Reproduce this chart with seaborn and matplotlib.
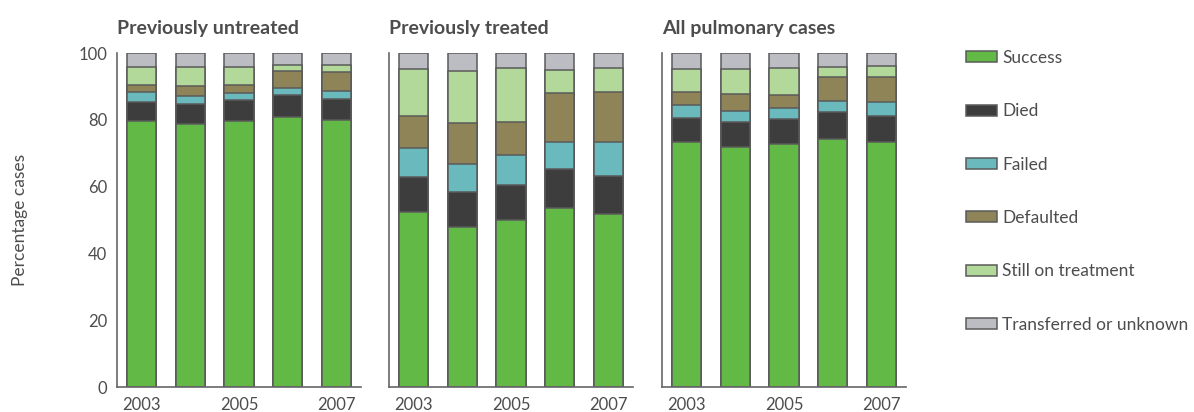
"""
Treatment outcomes, stacked percentage bars for three case groups.
"""
import numpy as np
import matplotlib
matplotlib.use("Agg")
import matplotlib.pyplot as plt
from matplotlib.patches import Patch
from matplotlib.ticker import FixedLocator
import seaborn as sns

years = ["2003", "2004", "2005", "2006", "2007"]
year_labels = ["2003", "", "2005", "", "2007"]
outcomes = ["Success", "Died", "Failed", "Defaulted", "Still on treatment", "Transferred or unknown"]
colors = ["#62b946", "#3d3d3d", "#69b9bd", "#8e8457", "#b2d99a", "#bcbdc2"]
panel_titles = ["Previously untreated", "Previously treated", "All pulmonary cases"]

# segment values per outcome (bottom to top), one list per year
untreated_success = [79.5, 78.8, 79.7, 80.7, 79.9]
untreated_died = [5.9, 6.0, 6.1, 6.7, 6.3]
untreated_failed = [2.8, 2.3, 2.2, 2.1, 2.4]
untreated_defaulted = [2.3, 3.1, 2.3, 5.2, 5.6]
untreated_still = [5.3, 5.6, 5.5, 1.7, 2.2]
untreated_transferred = [4.2, 4.2, 4.2, 3.6, 3.6]

treated_success = [52.4, 48.0, 50.1, 53.6, 51.8]
treated_died = [10.4, 10.4, 10.5, 11.7, 11.3]
treated_failed = [8.7, 8.5, 8.8, 8.0, 10.3]
treated_defaulted = [9.6, 12.0, 9.8, 14.6, 15.0]
treated_still = [14.1, 15.8, 16.4, 7.1, 7.0]
treated_transferred = [4.8, 5.3, 4.4, 5.0, 4.6]

all_success = [73.3, 71.8, 72.8, 74.3, 73.4]
all_died = [7.2, 7.4, 7.3, 8.0, 7.7]
all_failed = [3.9, 3.5, 3.4, 3.2, 4.1]
all_defaulted = [3.9, 4.9, 4.0, 7.4, 7.6]
all_still = [7.0, 7.7, 8.0, 3.0, 3.2]
all_transferred = [4.7, 4.7, 4.5, 4.1, 4.0]

panels = [
    [untreated_success, untreated_died, untreated_failed,
     untreated_defaulted, untreated_still, untreated_transferred],
    [treated_success, treated_died, treated_failed,
     treated_defaulted, treated_still, treated_transferred],
    [all_success, all_died, all_failed,
     all_defaulted, all_still, all_transferred],
]

sns.set_style("white")
plt.rcParams["font.family"] = ["Lato", "DejaVu Sans"]

TEXT = "#4d4d4d"
EDGE = "#5a5a5a"
SPINE = "#666666"

fig = plt.figure(figsize=(11.94, 4.12), dpi=100)
lefts = [117, 389, 662]
axes = [fig.add_axes([l / 1194, 25 / 412, 244 / 1194, 334 / 412]) for l in lefts]

for i, (ax, segs, title) in enumerate(zip(axes, panels, panel_titles)):
    cum = np.cumsum(np.array(segs), axis=0)
    # draw the tallest (cumulative) layer first so lower layers sit on top
    for k in range(len(outcomes) - 1, -1, -1):
        sns.barplot(x=years, y=cum[k], color=colors[k], width=0.6,
                    saturation=1, edgecolor=EDGE, linewidth=1.1, ax=ax)
    ax.set_xlim(-0.5, 4.5)
    ax.set_ylim(0, 100)
    ax.set_xlabel("")
    ax.set_ylabel("")
    for s in ["top", "right"]:
        ax.spines[s].set_visible(False)
    for s in ["left", "bottom"]:
        ax.spines[s].set_color(SPINE)
        ax.spines[s].set_linewidth(1.2)
    ax.set_xticks(range(5))
    ax.set_xticklabels(year_labels)
    ax.xaxis.set_minor_locator(FixedLocator([0.5, 1.5, 2.5, 3.5, 4.5]))
    ax.tick_params(axis="x", which="major", length=0, pad=7, labelsize=12, labelcolor=TEXT)
    ax.tick_params(axis="x", which="minor", direction="in", length=7, width=1.2, color=SPINE)
    ax.set_yticks([0, 20, 40, 60, 80, 100])
    ax.tick_params(axis="y", direction="in", length=3.5, width=1.2, color=SPINE,
                   labelsize=12, labelcolor=TEXT, pad=7)
    if i > 0:
        ax.set_yticklabels([])
    ax.set_title(title, loc="left", fontsize=14, fontweight="bold", color=TEXT, pad=14)

axes[0].set_ylabel("Percentage cases", fontsize=12.5, color=TEXT, labelpad=36)

handles = [Patch(facecolor=c, edgecolor=EDGE, linewidth=1.1) for c in colors]
fig.legend(handles, outcomes, loc="upper left", bbox_to_anchor=(959 / 1194, 1 - 43 / 412),
           frameon=False, fontsize=12.5, labelcolor=TEXT, handlelength=1.8,
           handleheight=0.6, handletextpad=0.3, labelspacing=2.15, borderaxespad=0)

fig.savefig("out.png", dpi=100)
